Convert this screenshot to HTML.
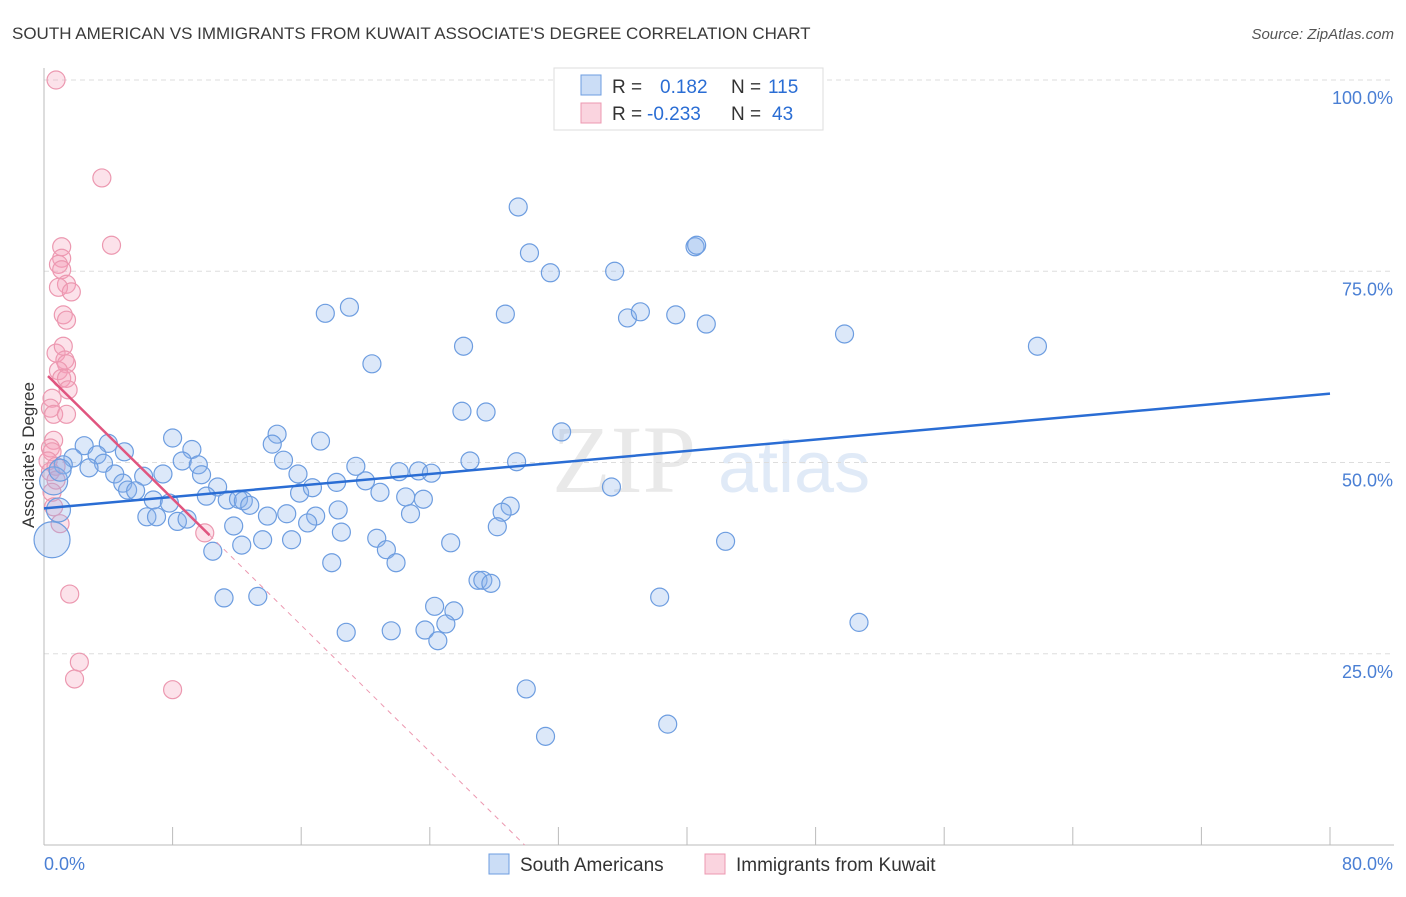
<!DOCTYPE html>
<html><head><meta charset="utf-8"><style>
body{margin:0;background:#fff;font-family:"Liberation Sans",sans-serif;}
</style></head><body>
<svg id="chart" width="1406" height="892" xmlns="http://www.w3.org/2000/svg" font-family="Liberation Sans, sans-serif">
<text x="12" y="39" font-size="17" fill="#3a3a3a">SOUTH AMERICAN VS IMMIGRANTS FROM KUWAIT ASSOCIATE'S DEGREE CORRELATION CHART</text>
<text x="1394" y="39" font-size="15" fill="#555" text-anchor="end" font-style="italic">Source: ZipAtlas.com</text>
<g opacity="0.18">
<text x="552" y="492" font-size="96" font-family="Liberation Serif, serif" fill="#888">ZIP</text>
<text x="718" y="492" font-size="72" fill="#5b8fd8">atlas</text>
</g>
<g id="grid"></g>
<g id="axes"></g>
<g id="pts"></g>
<g id="trend"></g>
<text transform="translate(34,455) rotate(-90)" font-size="17" fill="#333" text-anchor="middle">Associate's Degree</text>
<g>
<rect x="554" y="68" width="269" height="62" fill="#fff" stroke="#ddd"/>
<rect x="581" y="75" width="20" height="20" fill="rgba(140,180,235,0.45)" stroke="#6d9de0"/>
<rect x="581" y="103" width="20" height="20" fill="rgba(245,160,185,0.45)" stroke="#ec98b0"/>
<text x="612" y="93" font-size="19" fill="#333">R =</text><text x="660" y="93" font-size="19" fill="#2a6dd4">0.182</text>
<text x="731" y="93" font-size="19" fill="#333">N =</text><text x="768" y="93" font-size="19" fill="#2a6dd4">115</text>
<text x="612" y="120" font-size="19" fill="#333">R =</text><text x="647" y="120" font-size="19" fill="#2a6dd4">-0.233</text>
<text x="731" y="120" font-size="19" fill="#333">N =</text><text x="772" y="120" font-size="19" fill="#2a6dd4">43</text>
</g>
<g>
<rect x="489" y="854" width="20" height="20" fill="rgba(140,180,235,0.45)" stroke="#6d9de0"/>
<text x="520" y="871" font-size="19" fill="#333">South Americans</text>
<rect x="705" y="854" width="20" height="20" fill="rgba(245,160,185,0.45)" stroke="#ec98b0"/>
<text x="736" y="871" font-size="19" fill="#333">Immigrants from Kuwait</text>
</g>
</svg>
<script>
const blueX=[29.5,30.2,31.5,35.5,40.5,40.6,17.5,19.0,28.7,36.3,37.1,39.3,41.2,49.8,61.8,26.1,20.4,26.0,27.5,32.2,8.0,14.5,17.2,14.2,4.0,9.2,2.5,5.0,3.3,1.8,1.2,3.7,2.8,8.6,9.6,14.9,19.4,26.5,29.4,22.1,23.3,24.1,4.4,6.2,7.4,9.8,15.8,4.9,18.2,20.0,10.8,5.2,5.7,15.9,16.7,35.3,20.9,6.8,10.1,11.4,12.1,12.4,12.8,7.8,22.5,23.6,18.3,29.0,28.5,6.4,7.0,8.3,8.9,11.8,13.9,15.1,16.9,16.4,22.8,28.2,18.5,13.6,15.4,12.3,20.7,25.3,42.4,10.5,21.3,17.9,21.9,27.0,27.3,27.8,11.2,13.3,38.3,24.3,25.5,50.7,18.8,21.6,23.7,25.0,24.5,30.0,38.8,31.2,0.5,0.6,0.9,1.0];
const blueY=[83.4,77.4,74.8,75.0,78.2,78.4,69.5,70.3,69.4,68.9,69.7,69.3,68.1,66.8,65.2,65.2,62.9,56.7,56.6,54.0,53.2,53.7,52.8,52.4,52.5,51.7,52.2,51.4,51.0,50.6,49.7,49.9,49.3,50.2,49.7,50.3,49.5,50.2,50.1,48.8,48.9,48.6,48.5,48.2,48.5,48.4,48.5,47.3,47.4,47.6,46.8,46.4,46.3,46.0,46.7,46.8,46.1,45.1,45.6,45.1,45.2,45.0,44.4,44.7,45.5,45.2,43.8,44.3,43.5,42.9,42.9,42.3,42.6,41.7,43.0,43.3,43.0,42.1,43.3,41.6,40.9,39.9,39.9,39.2,40.1,39.5,39.7,38.4,38.6,36.9,36.9,34.6,34.6,34.2,32.3,32.5,32.4,31.2,30.6,29.1,27.8,28.0,28.1,28.9,26.7,20.4,15.8,14.2,39.9,47.6,43.8,49.0];
const blueR=[];for(let i=0;i<blueX.length;i++)blueR.push(9);
blueR[blueR.length-4]=18;blueR[blueR.length-3]=14;blueR[blueR.length-2]=12;blueR[blueR.length-1]=11;
const pinkX=[0.75,3.6,4.2,1.1,1.1,0.9,1.1,1.4,0.9,1.7,1.2,1.4,0.75,1.2,1.3,1.4,0.9,1.1,1.4,1.5,0.5,0.4,0.6,1.4,0.6,0.4,0.5,0.25,0.75,0.4,0.75,0.5,0.6,1.0,10.0,1.6,2.2,1.9,8.0];
const pinkY=[100,87.2,78.4,78.2,76.7,75.9,75.2,73.3,72.9,72.3,69.3,68.6,64.3,65.2,63.4,62.9,62.0,61.0,61.0,59.5,58.4,57.1,56.3,56.3,52.9,51.9,51.4,50.2,49.5,48.8,47.7,46.1,44.2,42.0,40.8,32.8,23.9,21.7,20.3];
const xTicks=[0,8,16,24,32,40,48,56,64,72,80];
const yTicks=[25,50,75,100];
const blueTrend=[[0,44.0],[80,59.0]];
const pinkTrend=[[0.25,61.3],[10.3,40.5]];
const pinkDash=[[10.3,40.5],[29.9,0]];
const X0=44,X1=1330,Y0=845,Y1=80;
const sx=v=>X0+(v/80)*(X1-X0);
const sy=v=>Y0-(v/100)*(Y0-Y1);
const NS="http://www.w3.org/2000/svg";
function mk(tag,attrs,parent){const e=document.createElementNS(NS,tag);for(const k in attrs)e.setAttribute(k,attrs[k]);document.getElementById(parent).appendChild(e);return e;}
yTicks.forEach(t=>{
 const l=mk('line',{x1:X0,x2:1394,y1:sy(t),y2:sy(t),stroke:'#ddd','stroke-dasharray':'5,4'},'grid');
 
 
 const tx=mk('text',{x:1393,y:sy(t)+24,'font-size':18,fill:'#4a7fd4','text-anchor':'end'},'grid');
 tx.textContent=t.toFixed(1)+'%';
 
 
});
const ax=mk('line',{x1:X0,x2:X0,y1:68,y2:Y0,stroke:'#bbb'},'axes');


const bx=mk('line',{x1:X0,x2:1394,y1:Y0,y2:Y0,stroke:'#bbb'},'axes');


xTicks.forEach(t=>{
 const l=mk('line',{x1:sx(t),x2:sx(t),y1:Y0-18,y2:Y0,stroke:'#bbb'},'axes');
 
 
});
[[0,'start',44],[80,'end',1393]].forEach(([v,a,x])=>{
 const tx=mk('text',{x:x,y:870,'font-size':18,fill:'#4a7fd4','text-anchor':a},'axes');
 tx.textContent=v.toFixed(1)+'%';
 
 
});
pinkX.forEach((v,i)=>{
 const c=mk('circle',{cx:sx(v),cy:sy(pinkY[i]),r:9,fill:'rgba(245,160,185,0.3)',stroke:'#ec98b0','stroke-width':1.2},'pts');
 
 
});
blueX.forEach((v,i)=>{
 const c=mk('circle',{cx:sx(v),cy:sy(blueY[i]),r:blueR[i],fill:'rgba(140,180,235,0.3)',stroke:'#6d9de0','stroke-width':1.2},'pts');
 
 
});
let l1=mk('line',{x1:sx(blueTrend[0][0]),y1:sy(blueTrend[0][1]),x2:sx(blueTrend[1][0]),y2:sy(blueTrend[1][1]),stroke:'#2a6dd4','stroke-width':2.5},'trend');


let l2=mk('line',{x1:sx(pinkTrend[0][0]),y1:sy(pinkTrend[0][1]),x2:sx(pinkTrend[1][0]),y2:sy(pinkTrend[1][1]),stroke:'#e0557f','stroke-width':2.5},'trend');


let l3=mk('line',{x1:sx(pinkDash[0][0]),y1:sy(pinkDash[0][1]),x2:sx(pinkDash[1][0]),y2:sy(pinkDash[1][1]),stroke:'#ec98b0','stroke-width':1,'stroke-dasharray':'5,5'},'trend');


</script>
</body></html>
